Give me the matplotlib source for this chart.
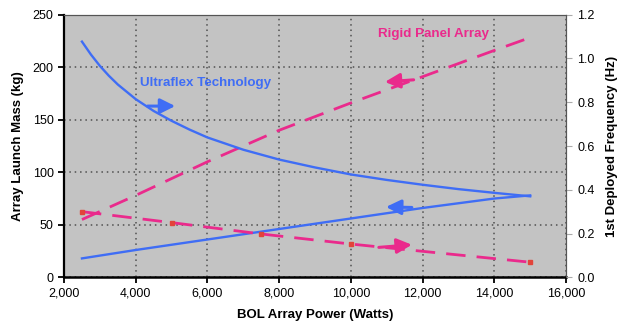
import numpy as np
import matplotlib.pyplot as plt
from matplotlib.ticker import FuncFormatter

plt.rcParams['font.family'] = ['Liberation Sans', 'DejaVu Sans']

# Ultraflex: launch mass (kg) and first deployed frequency (Hz)
uf_mass_p = [2500, 4000, 6000, 8000, 10000, 12000, 14000, 15000]
uf_mass = [18, 26, 36, 46, 56, 66, 75, 78]
uf_freq_p = [2500, 2750, 3000, 3250, 3500, 4000, 4500, 5000, 5500, 6000,
             7000, 8000, 9000, 10000, 11000, 12000, 13000, 14000, 15000]
uf_freq = [1.077, 1.018, 0.966, 0.921, 0.881, 0.814, 0.760, 0.715, 0.675,
           0.639, 0.583, 0.538, 0.502, 0.470, 0.445, 0.423, 0.403, 0.386, 0.370]

# Rigid panel array
rp_mass_p = [2500, 4000, 6000, 8000, 10000, 12000, 14000, 14900]
rp_mass = [55, 78, 110, 140, 166, 191, 216, 227]
rp_freq_p = [2500, 5000, 7500, 10000, 15000]
rp_freq = [0.30, 0.25, 0.198, 0.152, 0.069]

blue = '#3f6df5'
pink = '#ea2a8c'
red = '#e2443a'

fig = plt.figure(figsize=(6.18, 3.31), dpi=100)
ax = fig.add_axes([0.1036, 0.1622, 0.8123, 0.7934])
ax2 = ax.twinx()
ax.set_facecolor('#c3c3c3')

ax.plot(uf_mass_p, uf_mass, color=blue, lw=1.7)
ax.plot(rp_mass_p, rp_mass, color=pink, lw=2, dashes=(7, 4))
ax2.plot(uf_freq_p, uf_freq, color=blue, lw=1.7)
ax2.plot(rp_freq_p, rp_freq, color=pink, lw=2, dashes=(7, 4),
         marker='s', ms=3.5, mfc=red, mec=red)

ax.set_xlim(2000, 16000)
ax.set_ylim(0, 250)
ax2.set_ylim(0, 1.2)
ax.set_xticks(np.arange(2000, 16001, 2000))
ax.set_yticks(np.arange(0, 251, 50))
ax2.set_yticks(np.arange(0, 1.21, 0.2))
ax.xaxis.set_major_formatter(FuncFormatter(lambda v, p: f'{v:,.0f}'))
ax2.yaxis.set_major_formatter(FuncFormatter(lambda v, p: f'{v:.1f}'))

ax.grid(True, color='#505050', ls=(0, (1, 2.5)), lw=1.1)
ax.set_axisbelow(True)

for a in (ax, ax2):
    a.tick_params(labelsize=9, length=4, direction='out')
ax2.tick_params(axis='y', color='#aaaaaa', pad=4)
ax.tick_params(width=1.3)

ax.spines['left'].set_linewidth(1.6)
ax.spines['bottom'].set_linewidth(1.8)
for s in ('top', 'right'):
    ax.spines[s].set_color('#555555')
    ax2.spines[s].set_color('#555555')
ax2.spines['left'].set_visible(False)
ax2.spines['bottom'].set_visible(False)

ax.set_xlabel('BOL Array Power (Watts)', fontsize=9.5, fontweight='bold', labelpad=7)
ax.set_ylabel('Array Launch Mass (kg)', fontsize=9.5, fontweight='bold', labelpad=6)
ax2.set_ylabel('1st Deployed Frequency (Hz)', fontsize=9.5, fontweight='bold', labelpad=8)

ax.text(4120, 185, 'Ultraflex Technology', color=blue, fontsize=9.6,
        fontweight='bold', va='center')
ax.text(12300, 232, 'Rigid Panel Array', color=pink, fontsize=9.6,
        fontweight='bold', va='center', ha='center')

arr = dict(arrowstyle='-|>,head_length=0.9,head_width=0.45', lw=2.2,
           shrinkA=0, shrinkB=0, mutation_scale=10)
ax.annotate('', xy=(5100, 163), xytext=(4330, 163), arrowprops=dict(arr, color=blue))
ax.annotate('', xy=(10950, 186), xytext=(11750, 188), arrowprops=dict(arr, color=pink))
ax.annotate('', xy=(10980, 67), xytext=(11700, 66.5), arrowprops=dict(arr, color=blue))
ax.annotate('', xy=(11700, 31), xytext=(10780, 28.5), arrowprops=dict(arr, color=pink))

fig.savefig('out.png', dpi=100)
